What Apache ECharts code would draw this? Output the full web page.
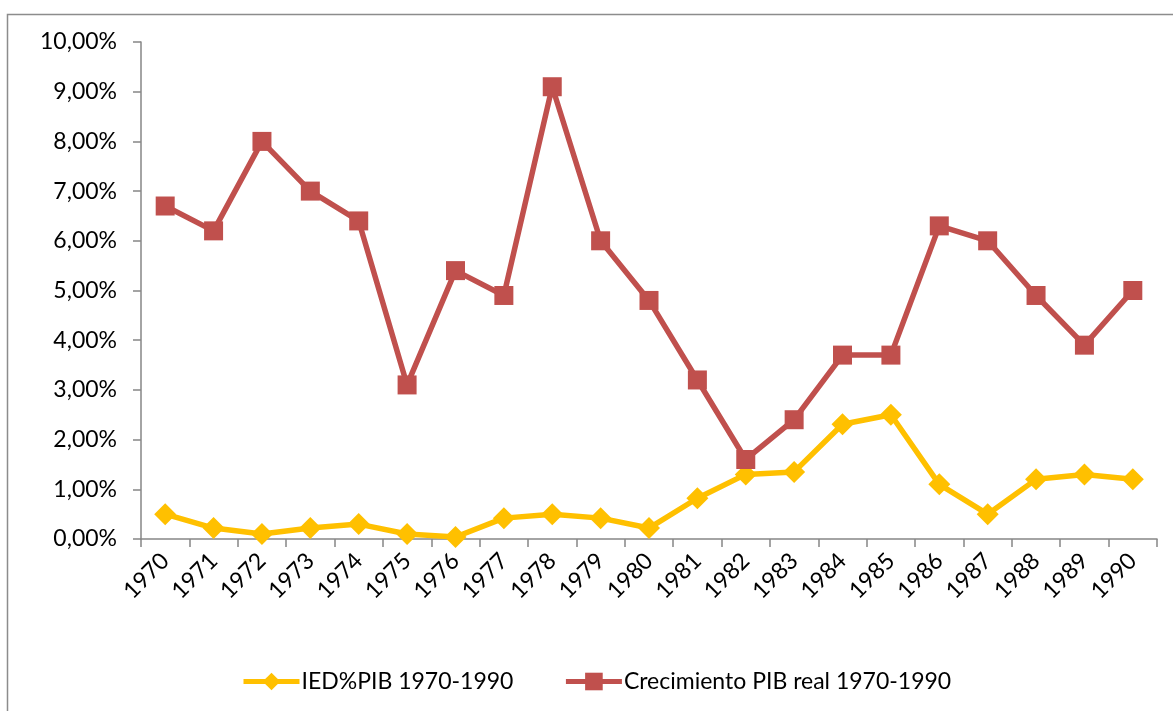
<!DOCTYPE html>
<html>
<head>
<meta charset="utf-8">
<script src="https://cdn.jsdelivr.net/npm/echarts@6/dist/echarts.min.js"></script>
<style>
  html, body { margin: 0; padding: 0; background: #fff; }
  #chart { width: 1173px; height: 711px; }
</style>
</head>
<body>
<div id="chart"></div>
<script>
const years = ["1970", "1971", "1972", "1973", "1974", "1975", "1976", "1977", "1978", "1979",
  "1980", "1981", "1982", "1983", "1984", "1985", "1986", "1987", "1988", "1989", "1990"];
const iedPib = [0.5, 0.22, 0.1, 0.22, 0.3, 0.1, 0.04, 0.42, 0.5, 0.42,
  0.22, 0.82, 1.3, 1.35, 2.31, 2.5, 1.1, 0.5, 1.2, 1.3, 1.2];
const crecimientoPib = [6.7, 6.2, 8.0, 7.0, 6.4, 3.1, 5.4, 4.9, 9.1, 6.0,
  4.8, 3.2, 1.6, 2.4, 3.7, 3.7, 6.3, 6.0, 4.9, 3.9, 5.0];
const seriesNames = ["IED%PIB 1970-1990", "Crecimiento PIB real 1970-1990"];

const font = "Lato, 'Open Sans', sans-serif";
const axisGray = "#868686";

const chart = echarts.init(document.getElementById("chart"));
chart.setOption({
  animation: false,
  backgroundColor: "#fff",
  textStyle: { fontFamily: font },
  graphic: [{
    type: "rect",
    shape: { x: 7.5, y: 14.5, width: 1200, height: 800 },
    style: { fill: "none", stroke: "#8c8c8c", lineWidth: 1.5 },
    silent: true
  }],
  legend: {
    data: [seriesNames[0], seriesNames[1]],
    top: 665,
    left: 236,
    itemWidth: 56,
    itemHeight: 22,
    itemGap: 50,
    lineStyle: { width: 5 },
    textStyle: { fontSize: 23, color: "#000", fontFamily: font, padding: [0, 0, 0, -3] }
  },
  grid: { left: 141, right: 16, top: 42, bottom: 172 },
  xAxis: {
    type: "category",
    data: years,
    boundaryGap: true,
    axisLine: { lineStyle: { color: axisGray, width: 1.5 } },
    axisTick: { show: true, length: 8, alignWithLabel: false, lineStyle: { color: axisGray, width: 1.5 } },
    axisLabel: { rotate: 45, fontSize: 23, color: "#000", margin: 18, interval: 0, fontFamily: font }
  },
  yAxis: {
    type: "value",
    min: 0,
    max: 10,
    interval: 1,
    splitLine: { show: false },
    axisLine: { show: true, lineStyle: { color: axisGray, width: 1.5 } },
    axisTick: { show: true, length: 8, lineStyle: { color: axisGray, width: 1.5 } },
    axisLabel: {
      fontSize: 23, color: "#000", margin: 24, fontFamily: font,
      formatter: (v) => v.toFixed(2).replace(".", ",") + "%"
    }
  },
  series: [
    {
      name: seriesNames[0],
      type: "line",
      data: iedPib,
      symbol: "diamond",
      symbolSize: 22,
      lineStyle: { color: "#ffc000", width: 5.5 },
      itemStyle: { color: "#ffc000" }
    },
    {
      name: seriesNames[1],
      type: "line",
      data: crecimientoPib,
      symbol: "rect",
      symbolSize: 19,
      lineStyle: { color: "#c0504d", width: 5.5 },
      itemStyle: { color: "#c0504d" }
    }
  ]
});
</script>
</body>
</html>
